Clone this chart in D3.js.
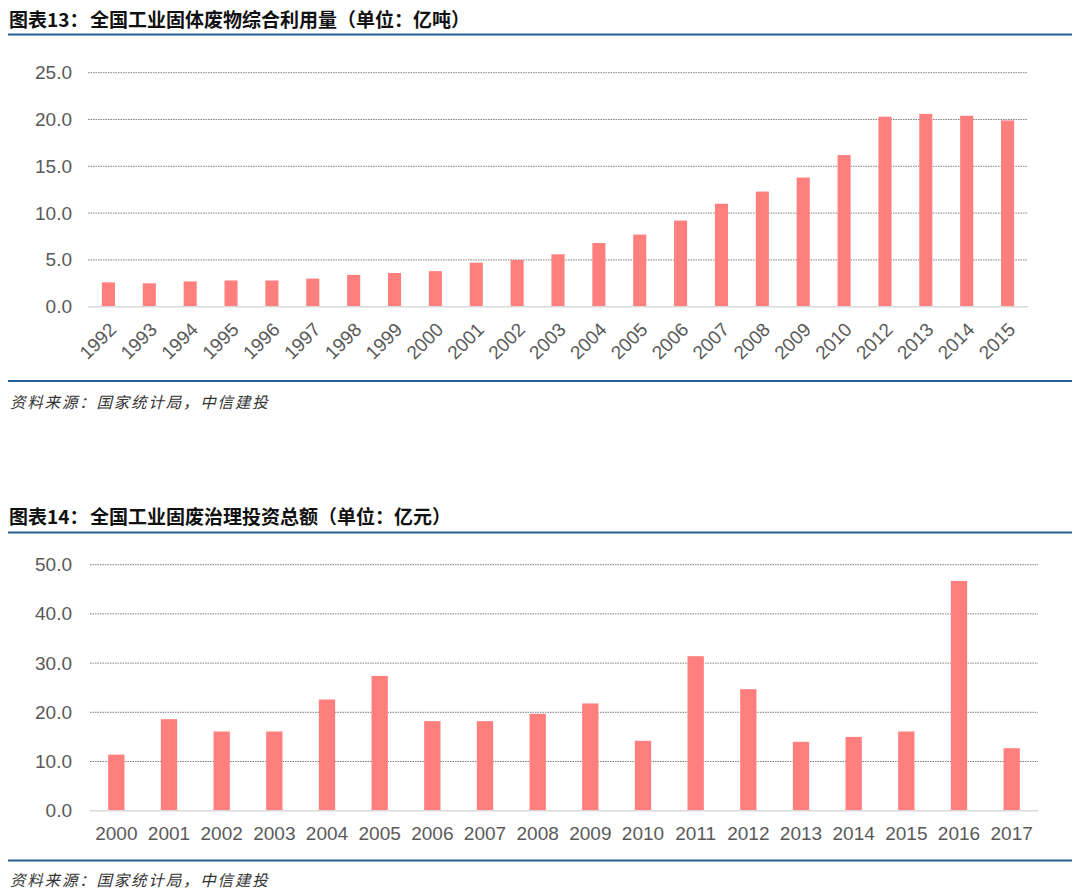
<!DOCTYPE html>
<html>
<head>
<meta charset="utf-8">
<script src="https://cdn.jsdelivr.net/npm/d3@7"></script>
<style>
  html, body { margin: 0; padding: 0; background: #ffffff; }
  svg { display: block; }
</style>
</head>
<body>
<svg id="chart" width="1080" height="890"></svg>
<script>
// ---- Data ----
const years1 = ["1992","1993","1994","1995","1996","1997","1998","1999","2000","2001","2002","2003","2004","2005","2006","2007","2008","2009","2010","2012","2013","2014","2015"];
const values1 = [2.6, 2.5, 2.7, 2.8, 2.8, 3.0, 3.4, 3.6, 3.8, 4.7, 5.0, 5.6, 6.8, 7.7, 9.2, 11.0, 12.3, 13.8, 16.2, 20.3, 20.6, 20.4, 19.9];
const ticks1 = [0, 5, 10, 15, 20, 25];

const years2 = ["2000","2001","2002","2003","2004","2005","2006","2007","2008","2009","2010","2011","2012","2013","2014","2015","2016","2017"];
const values2 = [11.4, 18.6, 16.1, 16.1, 22.6, 27.4, 18.2, 18.2, 19.7, 21.8, 14.2, 31.4, 24.7, 14.0, 15.0, 16.1, 46.7, 12.7];
const ticks2 = [0, 10, 20, 30, 40, 50];

const title1Label = "图表13：";
const title1Text = "全国工业固体废物综合利用量（单位：亿吨）";
const title2Label = "图表14：";
const title2Text = "全国工业固废治理投资总额（单位：亿元）";
const sourceText = "资料来源：国家统计局，中信建投";

// ---- Styles ----
const BAR = "#FF7F7F";
const RULE = "#235E96";
const TICK_COLOR = "#595959";
const NUM_FONT = "'Liberation Sans', Arial, sans-serif";
const CJK_FONT = "'Noto Sans CJK SC', 'Noto Sans', sans-serif";

const svg = d3.select("#chart");

function header(yText, yRule, label, text) {
  const t = svg.append("text")
    .attr("x", 9).attr("y", yText)
    .attr("dominant-baseline", "central")
    .attr("font-family", CJK_FONT)
    .attr("font-weight", "bold")
    .attr("font-size", 19)
    .attr("fill", "#111");
  t.append("tspan").text(label);
  t.append("tspan").attr("x", 90).text(text);
  svg.append("line")
    .attr("x1", 8).attr("x2", 1072)
    .attr("y1", yRule).attr("y2", yRule)
    .attr("stroke", RULE).attr("stroke-width", 2.2);
}

function footer(yRule, yText) {
  svg.append("line")
    .attr("x1", 8).attr("x2", 1072)
    .attr("y1", yRule).attr("y2", yRule)
    .attr("stroke", RULE).attr("stroke-width", 2.2);
  svg.append("text")
    .attr("x", 10).attr("y", yText)
    .attr("dominant-baseline", "central")
    .attr("font-family", CJK_FONT)
    .attr("font-style", "italic")
    .attr("font-size", 15.5)
    .attr("letter-spacing", 1.8)
    .attr("fill", "#333")
    .text(sourceText);
}

function barChart(opts) {
  const { cats, vals, ticks, x0, x1, yTop, yBottom, barFrac, rotate } = opts;
  const x = d3.scaleBand().domain(cats).range([x0, x1]).paddingInner(1 - barFrac).paddingOuter((1 - barFrac) / 2);
  const y = d3.scaleLinear().domain([ticks[0], ticks[ticks.length - 1]]).range([yBottom, yTop]);
  const g = svg.append("g");

  // gridlines (excluding zero)
  g.selectAll(".grid").data(ticks.filter(d => d !== 0)).enter().append("line")
    .attr("x1", x0).attr("x2", x1)
    .attr("y1", d => y(d)).attr("y2", d => y(d))
    .attr("stroke", "#7f7f7f").attr("stroke-width", 1)
    .attr("stroke-dasharray", "1.5,1");

  // bars
  g.selectAll(".bar").data(vals).enter().append("rect")
    .attr("x", (d, i) => x(cats[i]))
    .attr("width", x.bandwidth())
    .attr("y", d => y(d))
    .attr("height", d => y(0) - y(d))
    .attr("fill", BAR);

  // zero axis line
  g.append("line")
    .attr("x1", x0).attr("x2", x1)
    .attr("y1", y(0)).attr("y2", y(0))
    .attr("stroke", "#d9d9d9").attr("stroke-width", 1.5);

  // y axis labels
  const yAxis = d3.axisLeft(y).tickValues(ticks).tickFormat(d3.format(".1f")).tickSize(0).tickPadding(x0 - 72);
  const ya = g.append("g").attr("transform", `translate(${x0},0)`).call(yAxis);
  ya.select(".domain").remove();
  ya.selectAll("text")
    .attr("font-family", NUM_FONT).attr("font-size", 19).attr("fill", TICK_COLOR);

  // x axis labels
  const xAxis = d3.axisBottom(x).tickSize(0);
  const xa = g.append("g").attr("transform", `translate(0,${y(0)})`).call(xAxis);
  xa.select(".domain").remove();
  const xt = xa.selectAll("text")
    .attr("font-family", NUM_FONT).attr("font-size", 19).attr("fill", TICK_COLOR);
  if (rotate) {
    xt.attr("text-anchor", "end")
      .attr("y", 0).attr("dy", 0)
      .attr("transform", "translate(9,24) rotate(-45)");
  } else {
    xt.attr("y", 0).attr("dy", "1.55em");
  }
}

// ---- Chart 1 ----
header(18, 34.5, title1Label, title1Text);
barChart({ cats: years1, vals: values1, ticks: ticks1, x0: 88, x1: 1028, yTop: 72.7, yBottom: 306.7, barFrac: 0.32, rotate: true });
footer(381, 401);

// ---- Chart 2 ----
header(515, 532.5, title2Label, title2Text);
barChart({ cats: years2, vals: values2, ticks: ticks2, x0: 90, x1: 1038, yTop: 564.7, yBottom: 810.7, barFrac: 0.31, rotate: false });
footer(860.5, 878.5);
</script>
</body>
</html>
